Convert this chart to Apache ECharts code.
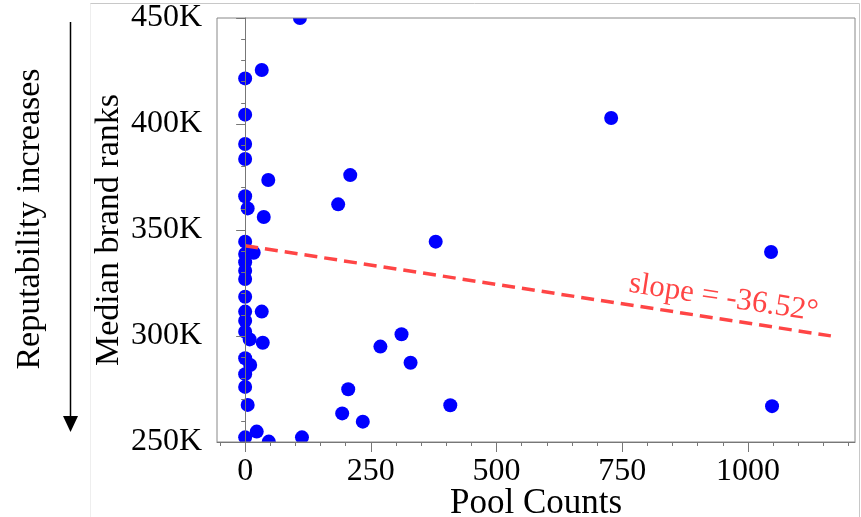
<!DOCTYPE html>
<html>
<head>
<meta charset="utf-8">
<script src="https://cdn.jsdelivr.net/npm/echarts@6/dist/echarts.min.js"></script>
<style>
  html, body { margin: 0; padding: 0; background: #fff; }
  #main { width: 861px; height: 517px; }
</style>
</head>
<body>
<div id="main"></div>
<script>
// scatter points: pool counts vs median brand rank
var poolCounts = [109, 33, 0, 0, 0, 0, 46, 0, 5, 37,
                  0, 0, 17, 0, 0, 0, 0, 0, 33, 0,
                  0, 9, 35, 0, 10, 0, 0, 5, 0, 23,
                  47, 113, 209, 185, 379, 311, 269, 329, 205, 193,
                  234, 408, 728, 1046, 1048];
var medianRanks = [450000, 425500, 421500, 404400, 390600, 383500, 373600, 365900, 360200, 356100,
                   344500, 338700, 339300, 334800, 330800, 326900, 318500, 311500, 311500, 307200,
                   302000, 298400, 296800, 289500, 286300, 282000, 276000, 267500, 252200, 254900,
                   250200, 252200, 375900, 362100, 344500, 300800, 295000, 287400, 274900, 263500,
                   259600, 267300, 402800, 339600, 266900];

// fitted line
var fitX = [0, 1165];
var fitY = [342600, 300050];
var slopeText = 'slope = -36.52°';

// ticks
var xTicks = [0, 250, 500, 750, 1000];
var xMinorTicks = [-50, 50, 100, 150, 200, 300, 350, 400, 450, 550, 600, 650, 700, 800, 850, 900, 950, 1050, 1100, 1150, 1200];

var serif = '"Liberation Serif", "Times New Roman", serif';

var points = poolCounts.map(function (x, i) { return [x, medianRanks[i]]; });
var fitLine = fitX.map(function (x, i) { return [x, fitY[i]]; });

var chart = echarts.init(document.getElementById('main'));

var option = {
  animation: false,
  grid: {
    left: 217, top: 18, width: 638, height: 424,
    outerBoundsMode: 'none', containLabel: false,
    show: true, borderColor: '#888', borderWidth: 1, z: 5
  },
  xAxis: [{
    type: 'value', min: -56, max: 1213, z: 6, position: 'bottom',
    name: 'Pool Counts', nameLocation: 'middle', nameGap: 44, nameMoveOverlap: false,
    nameTextStyle: { fontFamily: serif, fontSize: 35, color: '#000' },
    axisLine: { lineStyle: { color: '#777' } },
    axisTick: { customValues: xTicks, length: 10, lineStyle: { color: '#777' } },
    axisLabel: {
      customValues: xTicks, fontFamily: serif, fontSize: 32, color: '#000', margin: 14,
      formatter: function (v) { return String(v); }
    },
    splitLine: { show: false }
  }, {
    type: 'value', min: -56, max: 1213, z: 6, position: 'bottom', offset: 0,
    axisLine: { show: false },
    axisTick: { customValues: xMinorTicks, length: 4, lineStyle: { color: '#777' } },
    axisLabel: { show: false },
    splitLine: { show: false }
  }],
  yAxis: {
    type: 'value', min: 250000, max: 450000, interval: 50000, z: 6,
    name: 'Median brand ranks', nameLocation: 'middle', nameGap: 91, nameMoveOverlap: false,
    nameTextStyle: { fontFamily: serif, fontSize: 34, color: '#000' },
    axisLine: { show: true, lineStyle: { color: '#777' } },
    axisTick: { show: true, length: 9, lineStyle: { color: '#777' } },
    minorTick: { show: true, splitNumber: 5, length: 4, lineStyle: { color: '#777' } },
    axisLabel: {
      fontFamily: serif, fontSize: 32, color: '#000', margin: 15,
      formatter: function (v) { return (v / 1000) + 'K'; }
    },
    splitLine: { show: false }
  },
  series: [{
    type: 'scatter',
    data: points,
    symbolSize: 14,
    clip: false,
    itemStyle: { color: '#0000ff', opacity: 1 },
    z: 2
  }, {
    type: 'line',
    data: fitLine,
    symbol: 'none',
    lineStyle: { color: '#ff4545', width: 3.5, type: [13, 7] },
    z: 3
  }]
};
chart.setOption(option);

// slope label placed along the fitted line
var p0 = chart.convertToPixel({ seriesIndex: 1 }, fitLine[0]);
var p1 = chart.convertToPixel({ seriesIndex: 1 }, fitLine[1]);
var ang = Math.atan2(p1[1] - p0[1], p1[0] - p0[0]);
var labX = 945;
var pA = chart.convertToPixel({ seriesIndex: 1 }, [labX, fitY[0] + (fitY[1] - fitY[0]) * (labX - fitX[0]) / (fitX[1] - fitX[0])]);
var off = 21;

chart.setOption({
  graphic: [
    // outer frame
    { type: 'line', shape: { x1: 90, y1: 3.5, x2: 859.5, y2: 3.5 }, style: { stroke: '#c8c8c8', lineWidth: 1 } },
    { type: 'line', shape: { x1: 859.5, y1: 3.5, x2: 859.5, y2: 517 }, style: { stroke: '#c8c8c8', lineWidth: 1 } },
    { type: 'line', shape: { x1: 90.5, y1: 3.5, x2: 90.5, y2: 517 }, style: { stroke: '#eeeeee', lineWidth: 1 } },
    // masks so edge points look clipped at the plot border
    { type: 'rect', z: 4, shape: { x: 218, y: 4.5, width: 636, height: 13.5 }, style: { fill: '#fff' } },
    { type: 'rect', z: 4, shape: { x: 218, y: 442.5, width: 636, height: 12 }, style: { fill: '#fff' } },
    // reputability arrow
    { type: 'line', shape: { x1: 70.5, y1: 22, x2: 70.5, y2: 420 }, style: { stroke: '#000', lineWidth: 1.5 } },
    { type: 'polygon', shape: { points: [[63, 416], [78, 416], [70.5, 432]] }, style: { fill: '#000' } },
    {
      type: 'text', x: 30, y: 219, rotation: Math.PI / 2,
      style: { text: 'Reputability increases', font: '34px ' + serif, fill: '#000', align: 'center', verticalAlign: 'middle' }
    },
    {
      type: 'text', z: 10,
      x: pA[0] + off * Math.sin(ang), y: pA[1] - off * Math.cos(ang), rotation: -ang,
      style: { text: slopeText, font: '31px ' + serif, fill: '#ff4545', align: 'center', verticalAlign: 'middle' }
    }
  ]
});
</script>
</body>
</html>
